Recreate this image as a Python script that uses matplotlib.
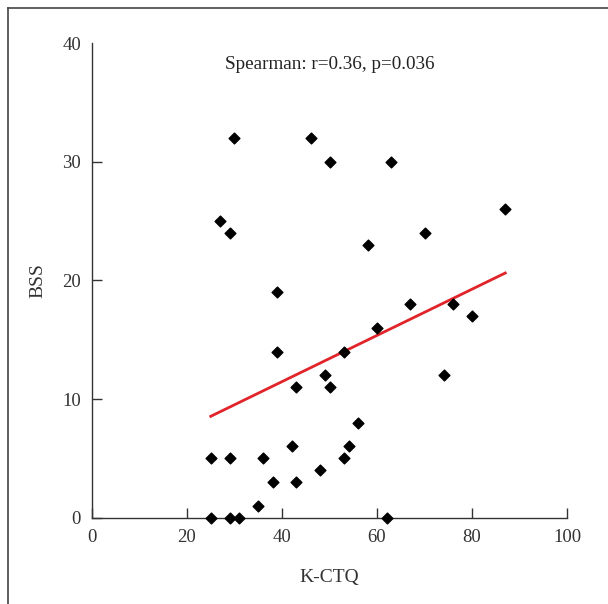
import numpy as np
import matplotlib.pyplot as plt
from matplotlib.lines import Line2D

plt.rcParams['font.family'] = ['Liberation Serif', 'DejaVu Serif']

# K-CTQ vs BSS
kctq = [30, 46, 50, 63, 27, 29, 87, 58, 70, 39, 39, 67, 76, 80, 60, 53, 49, 74,
        43, 50, 56, 42, 54, 25, 29, 36, 53, 48, 38, 43, 35, 25, 29, 31, 62]
bss = [32, 32, 30, 30, 25, 24, 26, 23, 24, 19, 14, 18, 18, 17, 16, 14, 12, 12,
       11, 11, 8, 6, 6, 5, 5, 5, 5, 4, 3, 3, 1, 0, 0, 0, 0]
x_ticks = [0, 20, 40, 60, 80, 100]
y_ticks = [0, 10, 20, 30, 40]

fig = plt.figure(figsize=(6.08, 6.04), dpi=100)
ax = fig.add_axes([0.1513, 0.1432, 0.7813, 0.7848])

x = np.array(kctq)
y = np.array(bss)
ax.scatter(x, y, marker='D', s=30, color='black', clip_on=False, zorder=3)

# linear fit over the observed range
slope, intercept = np.polyfit(x, y, 1)
xs = np.array([x.min(), x.max()])
ax.plot(xs, slope * xs + intercept, color='#e0242a', lw=2)

ax.set_xlim(0, 100)
ax.set_ylim(0, 40)
ax.set_xticks(x_ticks)
ax.set_yticks(y_ticks)
ax.spines['top'].set_visible(False)
ax.spines['right'].set_visible(False)
for s in ['left', 'bottom']:
    ax.spines[s].set_color('#333333')
    ax.spines[s].set_linewidth(1)
ax.tick_params(direction='in', length=7, width=1, color='#333333',
               labelsize=13.5, labelcolor='#333333', pad=8)
# no tick mark at the top of the y axis
ax.yaxis.get_major_ticks()[-1].tick1line.set_visible(False)

ax.set_xlabel('K-CTQ', fontsize=14, color='#333333', labelpad=17)
ax.set_ylabel('BSS', fontsize=14, color='#333333', labelpad=11)
ax.text(0.5, 0.955, 'Spearman: r=0.36, p=0.036', transform=ax.transAxes,
        ha='center', va='center', fontsize=13.8, color='#222222')

# outer frame (left and top edges only visible)
fig.add_artist(Line2D([8 / 608, 8 / 608], [0, 1 - 8 / 604], transform=fig.transFigure,
                      color='#444444', lw=1.2))
fig.add_artist(Line2D([8 / 608, 1], [1 - 8 / 604, 1 - 8 / 604], transform=fig.transFigure,
                      color='#444444', lw=1.2))

fig.savefig('out.png', dpi=100)
